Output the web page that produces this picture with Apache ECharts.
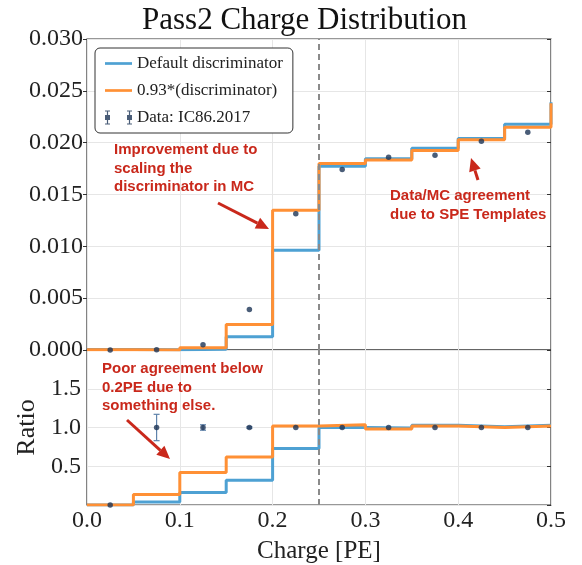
<!DOCTYPE html>
<html>
<head>
<meta charset="utf-8">
<script src="https://cdn.jsdelivr.net/npm/echarts@6/dist/echarts.min.js"></script>
<style>
html,body{margin:0;padding:0;background:#fff;}
#chart{width:582px;height:565px;}
</style>
</head>
<body>
<div id="chart"></div>
<script>
// ---- data ----
const binEdges = [0.00, 0.05, 0.10, 0.15, 0.20, 0.25, 0.30, 0.35, 0.40, 0.45, 0.50];
const binCenters = [0.025, 0.075, 0.125, 0.175, 0.225, 0.275, 0.325, 0.375, 0.425, 0.475];
const topDefault = [0.00005, 0.00002, 0.00008, 0.00128, 0.00962, 0.01773, 0.01844, 0.01946, 0.02040, 0.02177];
const topScaled  = [0.00002, 0.00001, 0.00021, 0.00247, 0.01347, 0.01800, 0.01834, 0.01924, 0.02027, 0.02148];
const nextBinDefault = 0.0239;
const nextBinScaled = 0.0238;
const topData    = [0.00000, 0.00002, 0.00050, 0.00390, 0.01315, 0.01741, 0.01860, 0.01879, 0.02014, 0.02100];
const topDataErr = [0.00000, 0.00001, 0.00002, 0.00004, 0.00006, 0.00007, 0.00007, 0.00007, 0.00007, 0.00007];
const ratioDefault = [0.00, 0.04, 0.16, 0.32, 0.73, 1.00, 0.995, 1.03, 1.01, 1.03];
const ratioScaled  = [0.00, 0.137, 0.42, 0.62, 1.02, 1.035, 0.98, 1.02, 1.00, 1.02];
const ratioData    = [0.00, 1.00, 1.00, 1.00, 1.00, 1.00, 1.00, 1.00, 1.00, 1.00];
const ratioErr     = [0.00, 0.17, 0.035, 0.01, 0.005, 0.004, 0.004, 0.004, 0.004, 0.004];
const thresholdPE = 0.25;
const xTicks = [0.0, 0.1, 0.2, 0.3, 0.4, 0.5];
const topTicks = [0.000, 0.005, 0.010, 0.015, 0.020, 0.025, 0.030];
const ratioTicks = [0.5, 1.0, 1.5];
const names = ['Default discriminator', '0.93*(discriminator)', 'Data: IC86.2017'];
const titleText = 'Pass2 Charge Distribution';
const notes = [
  {text: 'Improvement due to\nscaling the\ndiscriminator in MC', x: 114, y: 141, from: [218, 203], to: [269, 229]},
  {text: 'Data/MC agreement\ndue to SPE Templates', x: 390, y: 187, from: [478, 180], to: [471, 158]},
  {text: 'Poor agreement below\n0.2PE due to\nsomething else.', x: 102, y: 360, from: [127, 420], to: [170, 459]}
];

// ---- style ----
const BLUE = '#4ea1d3';
const ORANGE = '#ff9035';
const NAVY = '#1d3456';
const ERR = '#5f83ab';
const RED = '#c9281b';
const SERIF = '"Liberation Serif", "DejaVu Serif", serif';

function stepPoints(vals, extra) {
  const pts = vals.map((v, i) => [binEdges[i], v]);
  pts.push([binEdges[binEdges.length - 1], extra === undefined ? vals[vals.length - 1] : extra]);
  return pts;
}
function errData(vals, errs) {
  return vals.map((v, i) => [binCenters[i], v - errs[i], v + errs[i]]);
}
function errRender(params, api) {
  const x = api.value(0);
  const lo = api.coord([x, api.value(1)]);
  const hi = api.coord([x, api.value(2)]);
  if (Math.abs(hi[1] - lo[1]) < 1.5) return null;
  const c = 3;
  const st = {stroke: ERR, lineWidth: 1.2};
  return {type: 'group', children: [
    {type: 'line', shape: {x1: lo[0], y1: lo[1], x2: hi[0], y2: hi[1]}, style: st},
    {type: 'line', shape: {x1: lo[0] - c, y1: lo[1], x2: lo[0] + c, y2: lo[1]}, style: st},
    {type: 'line', shape: {x1: hi[0] - c, y1: hi[1], x2: hi[0] + c, y2: hi[1]}, style: st}
  ]};
}

const G = [{left: 87, right: 31, top: 39, height: 311}, {left: 87, right: 31, top: 350, height: 155}];
const labelStyle = {fontFamily: SERIF, fontSize: 24, color: '#222'};
const splitStyle = {show: true, lineStyle: {color: '#e6e6e6', width: 1}};

const vline = {
  silent: true, symbol: 'none', label: {show: false},
  lineStyle: {color: '#8a8a8a', type: [6, 4], width: 2},
  data: [{xAxis: thresholdPE}]
};

function arrowGraphics(n) {
  const [x0, y0] = n.from, [x1, y1] = n.to;
  const dx = x1 - x0, dy = y1 - y0, L = Math.hypot(dx, dy);
  const ux = dx / L, uy = dy / L, px = -uy, py = ux;
  const hl = 13, hw = 6;
  const bx = x1 - hl * ux, by = y1 - hl * uy;
  return [
    {type: 'line', z: 100, shape: {x1: x0, y1: y0, x2: bx, y2: by}, style: {stroke: RED, lineWidth: 3}},
    {type: 'polygon', z: 100, shape: {points: [[x1, y1], [bx + hw * px, by + hw * py], [bx - hw * px, by - hw * py]]}, style: {fill: RED}}
  ];
}
const graphics = [];
notes.forEach(n => {
  graphics.push({type: 'text', z: 100, x: n.x, y: n.y, style: {
    text: n.text, fill: RED, fontFamily: '"Liberation Sans", Arial, sans-serif',
    fontWeight: 'bold', fontSize: 15, lineHeight: 18.5, verticalAlign: 'top'}});
  arrowGraphics(n).forEach(g => graphics.push(g));
});

const option = {
  animation: false,
  backgroundColor: '#fff',
  title: {text: titleText, left: 137, top: 0,
    textStyle: {fontFamily: SERIF, fontSize: 31, fontWeight: 'normal', color: '#111'}},
  legend: {
    orient: 'vertical', left: 95, top: 48,
    padding: [7, 10, 7, 10], itemWidth: 27, itemHeight: 14, itemGap: 10,
    borderColor: '#333', borderWidth: 1, borderRadius: 5, backgroundColor: '#fff',
    textStyle: {fontFamily: SERIF, fontSize: 17, color: '#222'},
    data: [
      {name: names[0], icon: 'path://M0,0L30,0L30,3L0,3Z'},
      {name: names[1], icon: 'path://M0,0L30,0L30,3L0,3Z'},
      {name: names[2], icon: 'path://M3.4,0L4.6,0L4.6,14L3.4,14Z M1.5,0L6.5,0L6.5,1L1.5,1Z M1.5,13L6.5,13L6.5,14L1.5,14Z M1.5,4.5L6.5,4.5L6.5,9.5L1.5,9.5Z M25.4,0L26.6,0L26.6,14L25.4,14Z M23.5,0L28.5,0L28.5,1L23.5,1Z M23.5,13L28.5,13L28.5,14L23.5,14Z M23.5,4.5L28.5,4.5L28.5,9.5L23.5,9.5Z'}
    ]
  },
  grid: G.map(g => Object.assign({show: true, borderColor: '#333', borderWidth: 1.2, backgroundColor: 'transparent', outerBoundsMode: 'none', containLabel: false}, g)),
  xAxis: [
    {gridIndex: 0, type: 'value', min: xTicks[0], max: xTicks[xTicks.length - 1], interval: 0.1,
      axisLine: {show: false}, axisTick: {show: false}, axisLabel: {show: false}, splitLine: splitStyle},
    {gridIndex: 1, type: 'value', min: xTicks[0], max: xTicks[xTicks.length - 1], interval: 0.1,
      axisLine: {show: false}, axisTick: {show: false},
      axisLabel: Object.assign({margin: 4, formatter: v => v.toFixed(1)}, labelStyle),
      splitLine: splitStyle,
      name: 'Charge [PE]', nameLocation: 'middle', nameGap: 34,
      nameTextStyle: {fontFamily: SERIF, fontSize: 25, color: '#222'}}
  ],
  yAxis: [
    {gridIndex: 0, type: 'value', min: topTicks[0], max: topTicks[topTicks.length - 1], interval: 0.005,
      axisLine: {show: false}, axisTick: {show: true, length: 4, lineStyle: {color: '#333'}},
      axisLabel: Object.assign({margin: 4, formatter: v => v.toFixed(3)}, labelStyle),
      splitLine: splitStyle},
    {gridIndex: 1, type: 'value', min: 0, max: 2, interval: 0.5,
      axisLine: {show: false}, axisTick: {show: false},
      axisLabel: Object.assign({margin: 6, formatter: v => ratioTicks.some(t => Math.abs(t - v) < 1e-9) ? v.toFixed(1) : ''}, labelStyle),
      splitLine: splitStyle,
      name: 'Ratio', nameLocation: 'middle', nameGap: 47, nameRotate: 90,
      nameTextStyle: {fontFamily: SERIF, fontSize: 26, color: '#222'}},
    {gridIndex: 0, type: 'value', position: 'right', min: 0, max: 0.03, interval: 0.005,
      axisLine: {show: false}, axisTick: {show: true, inside: true, length: 4, lineStyle: {color: '#333'}},
      axisLabel: {show: false}, splitLine: {show: false}},
    {gridIndex: 1, type: 'value', position: 'right', min: 0, max: 2, interval: 0.5,
      axisLine: {show: false}, axisTick: {show: true, inside: true, length: 4, lineStyle: {color: '#333'}},
      axisLabel: {show: false}, splitLine: {show: false}}
  ],
  graphic: graphics,
  series: [
    {name: names[0], type: 'line', step: 'end', xAxisIndex: 0, yAxisIndex: 0, symbol: 'none',
      data: stepPoints(topDefault, nextBinDefault), color: BLUE, lineStyle: {width: 3, color: BLUE}, z: 3},
    {name: names[1], type: 'line', step: 'end', xAxisIndex: 0, yAxisIndex: 0, symbol: 'none',
      data: stepPoints(topScaled, nextBinScaled), color: ORANGE, lineStyle: {width: 3, color: ORANGE}, z: 4,
      markLine: vline},
    {name: names[2], type: 'scatter', xAxisIndex: 0, yAxisIndex: 0, symbolSize: 5.5,
      data: topData.map((v, i) => [binCenters[i], v]), color: NAVY, itemStyle: {color: NAVY}, z: 6},
    {name: names[2], type: 'custom', xAxisIndex: 0, yAxisIndex: 0, renderItem: errRender,
      data: errData(topData, topDataErr), color: NAVY, z: 5},
    {name: names[0], type: 'line', step: 'end', xAxisIndex: 1, yAxisIndex: 1, symbol: 'none',
      data: stepPoints(ratioDefault), color: BLUE, lineStyle: {width: 3, color: BLUE}, z: 3},
    {name: names[1], type: 'line', step: 'end', xAxisIndex: 1, yAxisIndex: 1, symbol: 'none',
      data: stepPoints(ratioScaled), color: ORANGE, lineStyle: {width: 3, color: ORANGE}, z: 4,
      markLine: vline},
    {name: names[2], type: 'custom', xAxisIndex: 1, yAxisIndex: 1, renderItem: errRender,
      data: errData(ratioData, ratioErr), color: NAVY, z: 5},
    {name: names[2], type: 'scatter', xAxisIndex: 1, yAxisIndex: 1, symbolSize: 5.5,
      data: ratioData.map((v, i) => [binCenters[i], v]), color: NAVY, itemStyle: {color: NAVY}, z: 6}
  ]
};
const chart = echarts.init(document.getElementById('chart'), null, {renderer: 'canvas'});
chart.setOption(option);
</script>
</body>
</html>
